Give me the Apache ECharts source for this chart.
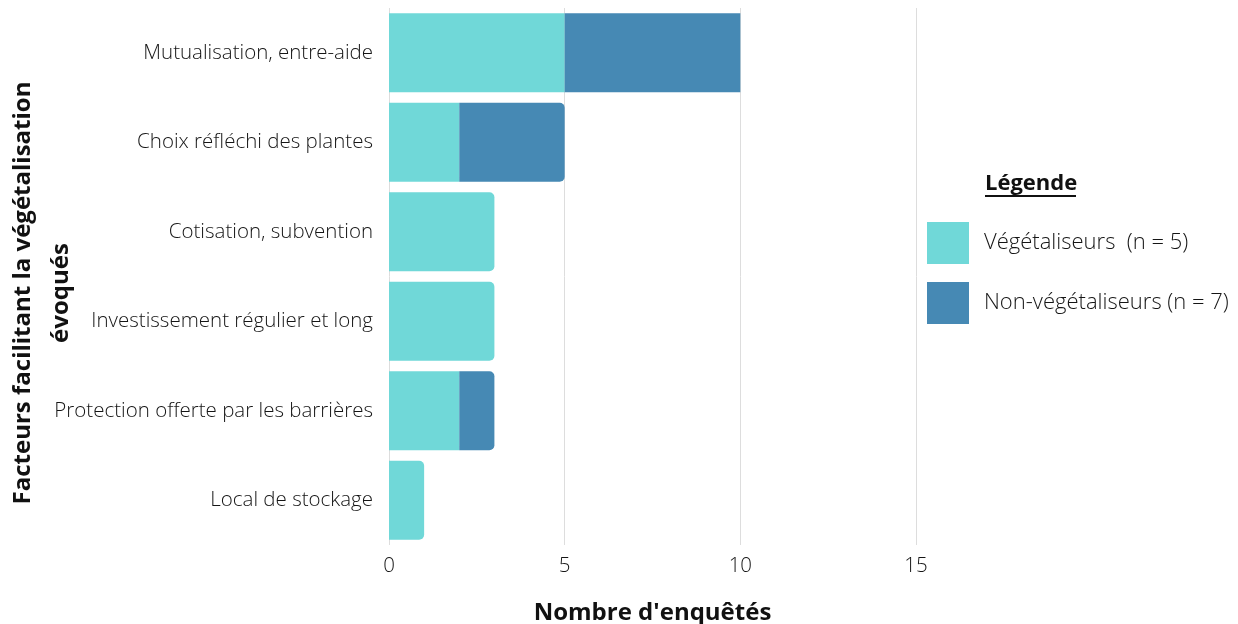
<!DOCTYPE html>
<html><head><meta charset="utf-8">
<script src="https://cdn.jsdelivr.net/npm/echarts@6/dist/echarts.min.js"></script>
<style>html,body{margin:0;padding:0;background:#fff}#c{width:1238px;height:624px}</style>
</head><body><div id="c"></div>
<script>
const categories = ["Mutualisation, entre-aide","Choix réfléchi des plantes","Cotisation, subvention","Investissement régulier et long","Protection offerte par les barrières","Local de stockage"];
const vegetaliseurs = [5,2,3,3,2,1];
const nonVegetaliseurs = [5,3,0,0,1,0];
const xTicks = [0,5,10,15];
const seriesNames = ["Végétaliseurs  (n = 5)","Non-végétaliseurs (n = 7)"];
const colors = ["#70d8d8","#4689b4"];
const yTitle = "Facteurs facilitant la végétalisation\névoqués";
const F = "'Open Sans', sans-serif";
const R = 5;

const vegData = vegetaliseurs.map((v,i)=>({value:v,itemStyle:{borderRadius:(nonVegetaliseurs[i]===0 && i!==0)?[0,R,R,0]:0}}));
const nonData = nonVegetaliseurs.map((v,i)=>({value:v,itemStyle:{borderRadius:i===0?0:[0,R,R,0]}}));

const chart = echarts.init(document.getElementById('c'));
chart.setOption({
  animation:false,
  textStyle:{fontFamily:F},
  grid:{left:389,right:1238-916,top:8,bottom:79,containLabel:false,outerBoundsMode:'none'},
  legend:{
    orient:'vertical',left:927,top:222,itemWidth:42,itemHeight:42,itemGap:18,padding:0,
    icon:'rect',
    textStyle:{fontFamily:F,fontSize:22,fontWeight:300,color:'#151515',padding:[0,0,0,10]},
    data:seriesNames
  },
  graphic:[
    {type:'text',left:985,top:173,style:{text:'Légende',font:"bold 22px 'Open Sans'",fill:'#111'}},
    {type:'rect',left:985,top:195,shape:{width:91,height:2},style:{fill:'#111'}},
    {type:'text',x:42,y:293,rotation:Math.PI/2,
     style:{text:yTitle,font:"bold 24px 'Open Sans'",fill:'#111',align:'center',verticalAlign:'middle',lineHeight:38}}
  ],
  xAxis:{
    type:'value',min:xTicks[0],max:xTicks[xTicks.length-1],interval:5,
    axisLine:{show:false},axisTick:{show:false},
    splitLine:{show:true,lineStyle:{color:'#dddddd',width:1}},
    axisLabel:{fontFamily:F,fontSize:20.5,fontWeight:300,color:'#151515',margin:11},
    name:"Nombre d'enquêtés",nameLocation:'middle',nameGap:56,
    nameTextStyle:{fontFamily:F,fontSize:24,fontWeight:'bold',color:'#111'}
  },
  yAxis:{
    type:'category',data:categories,inverse:true,
    axisLine:{show:false},axisTick:{show:false},
    axisLabel:{fontFamily:F,fontSize:20.5,fontWeight:300,color:'#151515',margin:16}
  },
  series:[
    {name:seriesNames[0],type:'bar',stack:'a',data:vegData,itemStyle:{color:colors[0]},barCategoryGap:'12%'},
    {name:seriesNames[1],type:'bar',stack:'a',data:nonData,itemStyle:{color:colors[1]},barCategoryGap:'12%'}
  ]
});
</script></body></html>
